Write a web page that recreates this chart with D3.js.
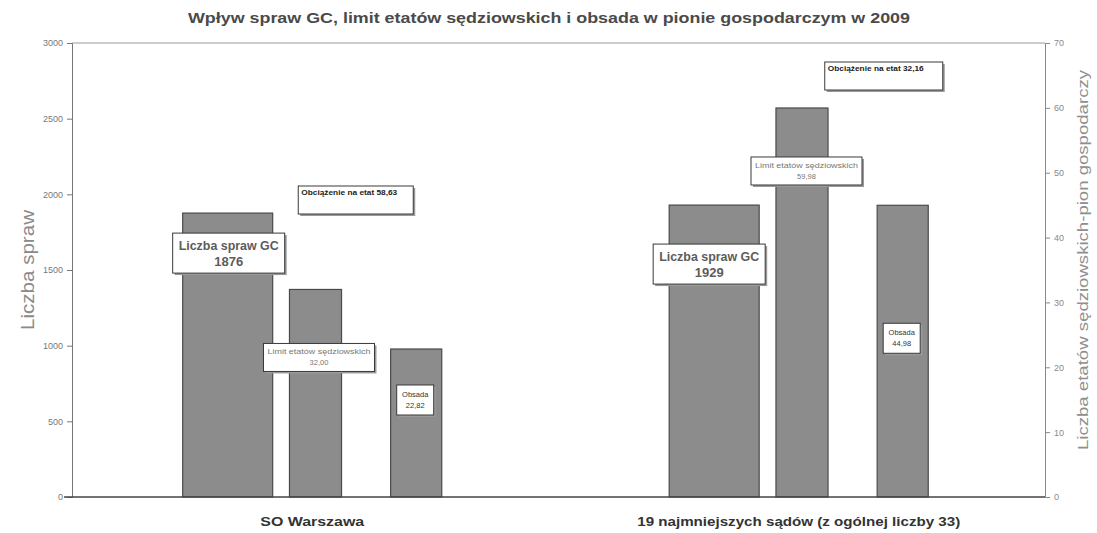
<!DOCTYPE html>
<html>
<head>
<meta charset="utf-8">
<script src="https://cdn.jsdelivr.net/npm/d3@7"></script>
<style>
  html, body { margin: 0; padding: 0; background: #fff; }
  svg { display: block; }
  text { font-family: "Liberation Sans Narrow", "Liberation Sans", Arial, sans-serif; }
</style>
</head>
<body>
<svg id="chart" width="1097" height="533"></svg>
<script>
// ---- data ----
const categories = ["SO Warszawa", "19 najmniejszych sądów (z ogólnej liczby 33)"];
const gcCases = [1876, 1929];            // Liczba spraw GC (left axis)
const judgeLimit = [32.00, 59.98];       // Limit etatów sędziowskich (right axis)
const staffing = [22.82, 44.98];         // Obsada (right axis)
const loadPerPost = ["58,63", "32,16"];  // Obciążenie na etat
const gcLabels = ["1876", "1929"];
const limitLabels = ["32,00", "59,98"];
const staffLabels = ["22,82", "44,98"];
const leftTicks = [0, 500, 1000, 1500, 2000, 2500, 3000];
const rightTicks = [0, 10, 20, 30, 40, 50, 60, 70];

const title = "Wpływ spraw GC, limit etatów sędziowskich i obsada w pionie gospodarczym w 2009";

// ---- layout ----
const svg = d3.select("#chart");
const L = 72, R = 1045, T = 43, B = 497;

const x = d3.scaleBand().domain(categories).range([L, R]).padding(0);
const yL = d3.scaleLinear().domain([0, 3000]).range([B, T]);
const yR = d3.scaleLinear().domain([0, 70]).range([B, T]);

// within-group bar geometry (fraction of band width, relative to band centre)
const bw = x.bandwidth();
const sub = {
  gc:    { off: -0.2725, w: 0.185 },
  limit: { off: -0.053,  w: 0.107 },
  staff: { off: 0.155,   w: 0.105 }
};
const cx = c => x(c) + bw / 2;

// frame lines
svg.append("line").attr("x1", L).attr("x2", R).attr("y1", T).attr("y2", T)
  .attr("stroke", "#9a9a9a").attr("stroke-width", 1);

// title
svg.append("text").attr("x", 549).attr("y", 23).attr("text-anchor", "middle")
  .attr("font-size", 15.5).attr("font-weight", "bold").attr("fill", "#4a4a4a")
  .attr("textLength", 722).attr("lengthAdjust", "spacingAndGlyphs")
  .text(title);

// left axis
const gL = svg.append("g").attr("transform", `translate(${L},0)`)
  .call(d3.axisLeft(yL).tickValues(leftTicks).tickSize(5).tickFormat(d3.format("d")));
gL.select(".domain").attr("stroke", "#777");
gL.selectAll(".tick line").attr("stroke", "#777");
gL.selectAll(".tick text").attr("fill", "#777").attr("font-size", 9)
  .attr("font-family", "Liberation Sans, Arial, sans-serif").attr("x", -9);

// right axis
const gR = svg.append("g").attr("transform", `translate(${R},0)`)
  .call(d3.axisRight(yR).tickValues(rightTicks).tickSize(5).tickFormat(d3.format("d")));
gR.select(".domain").attr("stroke", "#8a8a8a");
gR.selectAll(".tick line").attr("stroke", "#8a8a8a");
gR.selectAll(".tick text").attr("fill", "#888").attr("font-size", 9)
  .attr("font-family", "Liberation Sans, Arial, sans-serif").attr("x", 9);

// axis titles
svg.append("text").attr("transform", `translate(34,270) rotate(-90)`)
  .attr("text-anchor", "middle").attr("font-size", 18).attr("fill", "#8a8a8a")
  .attr("font-family", "Liberation Sans, Arial, sans-serif")
  .attr("textLength", 120).attr("lengthAdjust", "spacingAndGlyphs")
  .text("Liczba spraw");
svg.append("text").attr("transform", `translate(1088,260) rotate(-90)`)
  .attr("text-anchor", "middle").attr("font-size", 15).attr("fill", "#8f8f8f")
  .attr("font-family", "Liberation Sans, Arial, sans-serif")
  .attr("textLength", 380).attr("lengthAdjust", "spacingAndGlyphs")
  .text("Liczba etatów sędziowskich-pion gospodarczy");

// bars
const barFill = "#8c8c8c", barStroke = "#4a4a4a";
function drawBars(key, vals, scale) {
  svg.append("g").selectAll("rect").data(categories).join("rect")
    .attr("x", c => cx(c) + sub[key].off * bw)
    .attr("width", sub[key].w * bw)
    .attr("y", (c, i) => scale(vals[i]))
    .attr("height", (c, i) => B - scale(vals[i]))
    .attr("fill", barFill).attr("stroke", barStroke).attr("stroke-width", 1.2);
}
drawBars("gc", gcCases, yL);
drawBars("limit", judgeLimit, yR);
drawBars("staff", staffing, yR);

// bottom axis line
svg.append("line").attr("x1", L - 8).attr("x2", R).attr("y1", B).attr("y2", B)
  .attr("stroke", "#444").attr("stroke-width", 1.3);

// category labels
const catLen = [104, 323];
svg.append("g").selectAll("text").data(categories).join("text")
  .attr("x", c => cx(c) - 3).attr("y", 526).attr("text-anchor", "middle")
  .attr("font-size", 13.5).attr("font-weight", "bold").attr("fill", "#333")
  .attr("textLength", (c, i) => catLen[i]).attr("lengthAdjust", "spacingAndGlyphs")
  .text(c => c);

// annotation boxes
function box(x0, y0, w, h, lines, opt) {
  const g = svg.append("g");
  g.append("rect").attr("x", x0 + 2).attr("y", y0 + 2).attr("width", w).attr("height", h)
    .attr("fill", "#9a9a9a");
  g.append("rect").attr("x", x0).attr("y", y0).attr("width", w).attr("height", h)
    .attr("fill", "#fff").attr("stroke", "#3a3a3a").attr("stroke-width", 1);
  lines.forEach((t, k) => {
    const tx = g.append("text")
      .attr("x", opt.anchor === "start" ? x0 + 3 : x0 + w / 2)
      .attr("y", y0 + opt.first + k * opt.lh)
      .attr("text-anchor", opt.anchor || "middle")
      .attr("font-size", opt.size).attr("font-weight", opt.bold ? "bold" : "normal")
      .attr("fill", opt.color)
      .attr("font-family", "Liberation Sans, Arial, sans-serif")
      .text(t);
    if (opt.len && opt.len[k]) tx.attr("textLength", opt.len[k]).attr("lengthAdjust", "spacingAndGlyphs");
  });
}

categories.forEach((c, i) => {
  const gcX = cx(c) + (sub.gc.off + sub.gc.w / 2) * bw;
  const limX = cx(c) + (sub.limit.off + sub.limit.w / 2) * bw;
  const stX = cx(c) + (sub.staff.off + sub.staff.w / 2) * bw;
  const gcTop = yL(gcCases[i]);
  const limTop = yR(judgeLimit[i]);
  const stTop = yR(staffing[i]);

  const gcDx = [1, -5][i], gcDy = [20, 39][i];
  box(gcX + gcDx - 56, gcTop + gcDy, 112, 40, ["Liczba spraw GC", gcLabels[i]],
      { size: 13, bold: true, color: "#5c5c5c", first: 17, lh: 16, len: [100, 0] });

  const limDx = [3.5, 4.5][i], limDy = [54, 49][i];
  box(limX + limDx - 55.5, limTop + limDy, 111, 28, ["Limit etatów sędziowskich", limitLabels[i]],
      { size: 7.5, bold: false, color: "#777", first: 11, lh: 11, len: [103, 0] });

  const stDy = [36, 118][i];
  box(stX - 1 - 18.5, stTop + stDy, 37, 30, ["Obsada", staffLabels[i]],
      { size: 7.5, bold: false, color: "#333", first: 12, lh: 11 });

  const obX = [-17, 23][i], obY = [186, 62][i];
  box(cx(c) + obX, obY, [115, 118][i], 28, ["Obciążenie na etat " + loadPerPost[i]],
      { size: 7.5, bold: true, color: "#222", first: 9, lh: 10, anchor: "start", len: [96, 0] });
});
</script>
</body>
</html>
